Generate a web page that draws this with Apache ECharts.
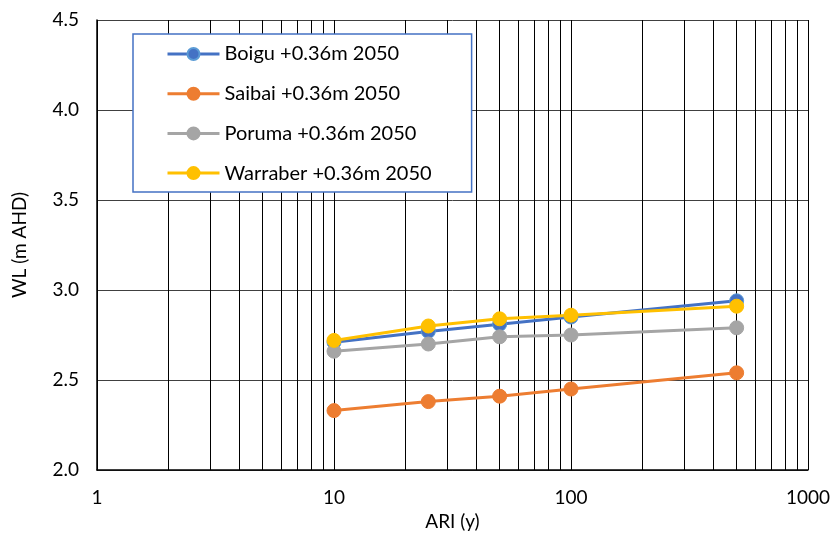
<!DOCTYPE html>
<html>
<head>
<meta charset="utf-8">
<script src="https://cdn.jsdelivr.net/npm/echarts@6/dist/echarts.min.js"></script>
<style>
  html, body { margin: 0; padding: 0; background: #fff; }
  #chart { width: 836px; height: 536px; }
</style>
</head>
<body>
<div id="chart"></div>
<script>
  // ARI (y)
  var ari = [10, 25, 50, 100, 500];
  var boigu = [2.71, 2.77, 2.81, 2.85, 2.94];
  var saibai = [2.33, 2.38, 2.41, 2.45, 2.54];
  var poruma = [2.66, 2.70, 2.74, 2.75, 2.79];
  var warraber = [2.72, 2.80, 2.84, 2.86, 2.91];
  var names = ['Boigu +0.36m 2050', 'Saibai +0.36m 2050', 'Poruma +0.36m 2050', 'Warraber +0.36m 2050'];
  var colors = ['#4472C4', '#ED7D31', '#A5A5A5', '#FFC000'];

  var font = 'Lato';
  var myChart = echarts.init(document.getElementById('chart'));

  function pairs(vals) {
    return ari.map(function (x, i) { return [x, vals[i]]; });
  }

  var seriesData = [boigu, saibai, poruma, warraber];
  var series = seriesData.map(function (vals, i) {
    return {
      name: names[i],
      type: 'line',
      data: pairs(vals),
      symbol: 'circle',
      symbolSize: 14,
      lineStyle: { width: 3, color: colors[i] },
      itemStyle: {
        color: colors[i],
        borderColor: i === 0 ? '#5B9BD5' : colors[i],
        borderWidth: 1
      },
      emphasis: { disabled: true },
      animation: false
    };
  });

  var option = {
    backgroundColor: '#fff',
    grid: {
      left: 97,
      right: 28,
      top: 20,
      bottom: 64
    },
    legend: {
      orient: 'vertical',
      left: 133,
      top: 34,
      itemWidth: 52,
      itemHeight: 15,
      itemGap: 19.7,
      padding: [10, 40, 9, 33],
      borderColor: '#4472C4',
      borderWidth: 1.5,
      backgroundColor: '#fff',
      lineStyle: { width: 3 },
      textStyle: { fontFamily: font, fontSize: 20, color: '#000' },
      data: names
    },
    xAxis: {
      type: 'log',
      logBase: 10,
      min: 1,
      max: 1000,
      name: 'ARI (y)',
      nameLocation: 'middle',
      nameGap: 42,
      nameTextStyle: { fontFamily: font, fontSize: 19, color: '#000' },
      axisLine: { lineStyle: { color: '#000', width: 1.5 } },
      axisTick: { show: false },
      axisLabel: {
        fontFamily: font, fontSize: 19, color: '#000', margin: 18,
        formatter: function (v) { return String(v); }
      },
      splitLine: { show: true, lineStyle: { color: '#000', width: 1 } },
      minorTick: { show: false, splitNumber: 9 },
      minorSplitLine: { show: true, lineStyle: { color: '#000', width: 1 } }
    },
    yAxis: {
      type: 'value',
      min: 2,
      max: 4.5,
      interval: 0.5,
      name: 'WL (m AHD)',
      nameLocation: 'middle',
      nameGap: 68,
      nameTextStyle: { fontFamily: font, fontSize: 19, color: '#000' },
      axisLine: { show: true, lineStyle: { color: '#000', width: 1.5 } },
      axisTick: { show: false },
      axisLabel: {
        fontFamily: font, fontSize: 19, color: '#000', margin: 18,
        formatter: function (v) { return v.toFixed(1); }
      },
      splitLine: { show: true, lineStyle: { color: '#404040', width: 1 } }
    },
    series: series
  };

  myChart.setOption(option);
</script>
</body>
</html>
